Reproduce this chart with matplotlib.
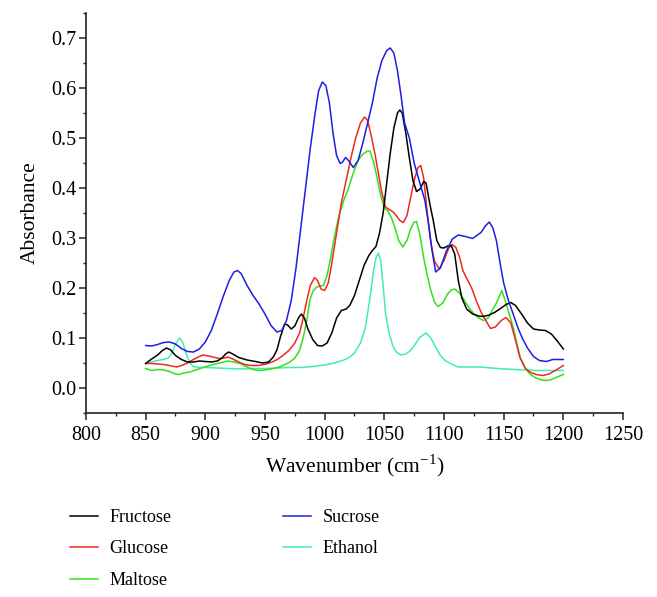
import matplotlib
matplotlib.use('Agg')
import matplotlib.pyplot as plt

# Fonte serifada parecida com a do artigo
plt.rcParams['font.family'] = ['Liberation Serif', 'DejaVu Serif']
plt.rcParams['mathtext.fontset'] = 'custom'
plt.rcParams['mathtext.rm'] = 'Liberation Serif'

# --- DADOS ---
fructose_x = [850, 855, 860, 864, 867.5, 871, 875, 880, 885, 890, 895, 900, 905, 910, 914, 917, 919.5, 923,
              928, 935, 942, 948, 953, 957, 960, 963, 966.5, 969, 972, 975, 978, 980.5, 983, 986, 990, 994,
              998, 1002, 1006, 1010, 1014, 1018, 1021, 1025, 1029, 1033, 1037, 1040, 1043, 1046, 1049, 1052,
              1055, 1058, 1061, 1063, 1065, 1068, 1071, 1074, 1077, 1080, 1083, 1085, 1088, 1091, 1094, 1097,
              1100, 1103, 1106, 1109, 1112, 1115, 1119, 1124, 1129, 1133, 1138, 1143, 1148, 1152, 1156, 1160,
              1165, 1170, 1175, 1180, 1185, 1190, 1195, 1200]
fructose_y = [0.049, 0.058, 0.066, 0.075, 0.080, 0.076, 0.065, 0.057, 0.052, 0.052, 0.054, 0.053, 0.052, 0.054,
              0.060, 0.068, 0.072, 0.068, 0.061, 0.056, 0.053, 0.050, 0.052, 0.062, 0.076, 0.103, 0.128, 0.126,
              0.118, 0.124, 0.140, 0.148, 0.140, 0.118, 0.097, 0.085, 0.084, 0.090, 0.110, 0.140, 0.155, 0.158,
              0.165, 0.185, 0.215, 0.245, 0.265, 0.275, 0.283, 0.310, 0.350, 0.410, 0.470, 0.520, 0.550, 0.556,
              0.550, 0.510, 0.460, 0.415, 0.393, 0.398, 0.413, 0.410, 0.370, 0.335, 0.295, 0.281, 0.280, 0.284,
              0.285, 0.268, 0.215, 0.180, 0.158, 0.148, 0.144, 0.143, 0.146, 0.152, 0.160, 0.167, 0.171, 0.165,
              0.148, 0.130, 0.118, 0.116, 0.115, 0.108, 0.094, 0.078]

glucose_x = [850, 855, 860, 865, 870, 876, 880, 885, 890, 895, 898, 903, 908, 912, 916, 919, 923, 928, 933, 938,
             945, 951, 956, 961, 965, 970, 975, 979, 982, 985, 988, 991.5, 994, 997, 1000, 1003, 1006, 1010,
             1014, 1018, 1022, 1026, 1030, 1033.5, 1036, 1039, 1042, 1045, 1048, 1051, 1054, 1057, 1060, 1063,
             1066, 1069, 1072, 1075, 1078, 1080.5, 1083, 1086, 1089, 1092, 1096, 1100, 1104, 1107, 1110, 1113,
             1116, 1120, 1123, 1127, 1131, 1135, 1139, 1143, 1148, 1152, 1156, 1160, 1163.5, 1168, 1172, 1177,
             1183, 1188, 1194, 1200]
glucose_y = [0.049, 0.049, 0.048, 0.047, 0.045, 0.042, 0.045, 0.050, 0.057, 0.063, 0.066, 0.064, 0.061, 0.059,
             0.060, 0.062, 0.058, 0.052, 0.047, 0.045, 0.045, 0.048, 0.052, 0.058, 0.065, 0.075, 0.090, 0.110,
             0.140, 0.175, 0.205, 0.221, 0.215, 0.198, 0.195, 0.210, 0.250, 0.310, 0.370, 0.415, 0.460, 0.500,
             0.530, 0.542, 0.535, 0.505, 0.470, 0.430, 0.390, 0.362, 0.357, 0.353, 0.345, 0.335, 0.331, 0.345,
             0.380, 0.415, 0.440, 0.445, 0.420, 0.350, 0.290, 0.254, 0.238, 0.255, 0.280, 0.287, 0.281, 0.262,
             0.234, 0.215, 0.201, 0.175, 0.152, 0.135, 0.119, 0.122, 0.135, 0.141, 0.130, 0.095, 0.062, 0.040,
             0.032, 0.027, 0.025, 0.028, 0.036, 0.045]

maltose_x = [850, 855, 860, 865, 870, 875, 878, 882, 887, 892, 898, 905, 912, 919, 924, 929, 935, 940, 945, 950,
             957, 962, 967, 971, 975, 979, 982, 985, 987.5, 990, 993, 996, 999, 1002, 1005, 1008, 1012, 1016,
             1020, 1024, 1028, 1032, 1036, 1038, 1041, 1044, 1047, 1050, 1053, 1056, 1059, 1062, 1065.5, 1069,
             1072, 1075, 1077, 1080, 1083, 1086, 1089, 1092, 1095, 1099, 1103, 1106, 1109, 1113, 1117, 1121,
             1125, 1129, 1133, 1137, 1141, 1144, 1148.5, 1152, 1155, 1158, 1161, 1164, 1168, 1172, 1177, 1182,
             1186, 1190, 1195, 1200]
maltose_y = [0.039, 0.035, 0.037, 0.036, 0.033, 0.028, 0.027, 0.030, 0.032, 0.036, 0.041, 0.046, 0.050, 0.054,
             0.052, 0.049, 0.042, 0.037, 0.035, 0.036, 0.039, 0.042, 0.047, 0.052, 0.060, 0.075, 0.100, 0.135,
             0.175, 0.193, 0.201, 0.204, 0.205, 0.225, 0.260, 0.300, 0.345, 0.375, 0.400, 0.430, 0.455, 0.468,
             0.474, 0.474, 0.452, 0.420, 0.385, 0.360, 0.354, 0.340, 0.320, 0.295, 0.282, 0.295, 0.318, 0.332,
             0.333, 0.305, 0.260, 0.225, 0.195, 0.172, 0.163, 0.170, 0.188, 0.196, 0.198, 0.190, 0.176, 0.160,
             0.149, 0.140, 0.135, 0.140, 0.158, 0.170, 0.195, 0.170, 0.145, 0.122, 0.090, 0.060, 0.040, 0.028,
             0.020, 0.016, 0.015, 0.017, 0.022, 0.027]

sucrose_x = [850, 855, 860, 865, 870, 875, 880, 885, 890, 895, 900, 905, 910, 915, 920, 924, 927, 930, 935, 940,
             945, 950, 955, 960, 964, 968, 972, 976, 980, 984, 988, 992, 995, 998, 1001, 1004, 1007, 1010, 1013,
             1015, 1017.5, 1020, 1024, 1028, 1032, 1036, 1040, 1044, 1048, 1052, 1055, 1058, 1061, 1064, 1067,
             1071, 1075, 1078, 1081, 1084, 1087, 1090, 1093, 1097, 1102, 1107, 1112, 1118, 1124, 1131, 1135,
             1138, 1141, 1144, 1147, 1150, 1154, 1158, 1162, 1166, 1170, 1175, 1180, 1186, 1191, 1196, 1200]
sucrose_y = [0.085, 0.084, 0.087, 0.091, 0.092, 0.088, 0.079, 0.073, 0.072, 0.078, 0.092, 0.115, 0.148, 0.183,
             0.215, 0.232, 0.235, 0.229, 0.205, 0.185, 0.168, 0.148, 0.125, 0.112, 0.115, 0.135, 0.175, 0.240,
             0.320, 0.400, 0.480, 0.550, 0.595, 0.612, 0.605, 0.570, 0.510, 0.465, 0.449, 0.452, 0.461, 0.455,
             0.441, 0.455, 0.490, 0.530, 0.570, 0.620, 0.655, 0.675, 0.680, 0.670, 0.635, 0.585, 0.530, 0.500,
             0.450, 0.425, 0.400, 0.375, 0.330, 0.275, 0.232, 0.240, 0.274, 0.298, 0.306, 0.303, 0.299, 0.311,
             0.325, 0.332, 0.320, 0.294, 0.250, 0.210, 0.175, 0.148, 0.120, 0.098, 0.080, 0.063, 0.055, 0.053,
             0.057, 0.057, 0.057]

ethanol_x = [850, 855, 860, 865, 869, 872, 875, 878.5, 881, 884, 887, 890, 895, 900, 910, 920, 930, 940, 950, 960,
             970, 980, 990, 1000, 1008, 1015, 1020, 1025, 1030, 1034, 1038, 1041, 1043, 1045, 1047, 1049, 1051,
             1054, 1057, 1060, 1064, 1068, 1072, 1076, 1080, 1085, 1089, 1093, 1097, 1101, 1106, 1112, 1120,
             1130, 1140, 1150, 1160, 1170, 1180, 1190, 1200]
ethanol_y = [0.049, 0.052, 0.055, 0.057, 0.060, 0.070, 0.088, 0.100, 0.092, 0.068, 0.050, 0.043, 0.041, 0.041,
             0.040, 0.039, 0.038, 0.039, 0.039, 0.040, 0.041, 0.041, 0.043, 0.046, 0.050, 0.055, 0.060, 0.070,
             0.090, 0.120, 0.180, 0.235, 0.260, 0.270, 0.255, 0.205, 0.150, 0.110, 0.085, 0.072, 0.066, 0.068,
             0.075, 0.088, 0.102, 0.110, 0.100, 0.082, 0.065, 0.055, 0.048, 0.042, 0.042, 0.042, 0.040, 0.038,
             0.037, 0.036, 0.035, 0.035, 0.035]

nomes = ['Fructose', 'Glucose', 'Maltose', 'Sucrose', 'Ethanol']
cores = ['#000000', '#ee2a20', '#33e01e', '#1e1ee0', '#40eeb0']

# --- GRÁFICO ---
fig = plt.figure(figsize=(6.57, 5.97), dpi=100)
ax = fig.add_axes([0.1309, 0.3082, 0.8173, 0.67])

series = [(fructose_x, fructose_y), (glucose_x, glucose_y), (maltose_x, maltose_y),
          (sucrose_x, sucrose_y), (ethanol_x, ethanol_y)]
# ordem de desenho: etanol embaixo, sacarose por cima
ordem_z = {'Ethanol': 1, 'Maltose': 2, 'Glucose': 3, 'Fructose': 4, 'Sucrose': 5}
for (x, y), nome, cor in zip(series, nomes, cores):
    ax.plot(x, y, color=cor, lw=1.1, label=nome, zorder=ordem_z[nome])

ax.set_xlim(800, 1250)
ax.set_ylim(-0.05, 0.75)
ax.set_xticks(range(800, 1251, 50))
ax.set_xticks(range(825, 1250, 50), minor=True)
ax.set_yticks([0.0, 0.1, 0.2, 0.3, 0.4, 0.5, 0.6, 0.7])
ax.set_yticks([-0.05, 0.05, 0.15, 0.25, 0.35, 0.45, 0.55, 0.65, 0.75], minor=True)
ax.set_yticklabels(['0.0', '0.1', '0.2', '0.3', '0.4', '0.5', '0.6', '0.7'])

ax.spines['top'].set_visible(False)
ax.spines['right'].set_visible(False)
for s in ['left', 'bottom']:
    ax.spines[s].set_linewidth(1.2)
    ax.spines[s].set_color('#222222')

ax.tick_params(which='major', direction='out', length=5, width=1.1, labelsize=14.5, color='#222222')
ax.tick_params(which='minor', direction='out', length=2.5, width=1.0, color='#222222')
ax.tick_params(axis='y', pad=2)
ax.tick_params(axis='x', pad=4)

ax.set_xlabel(r'Wavenumber (cm$^{-1}$)', fontsize=15.5, labelpad=6)
ax.set_ylabel('Absorbance', fontsize=15.5, labelpad=8)

fig.legend(loc='upper left', bbox_to_anchor=(0.1065, 0.1475), ncol=2, frameon=False,
           fontsize=13, handlelength=1.55, handletextpad=0.65, columnspacing=6.15,
           labelspacing=0.8, borderpad=0, borderaxespad=0)

plt.savefig('out.png', dpi=100)
print("Gráfico salvo como: out.png")
